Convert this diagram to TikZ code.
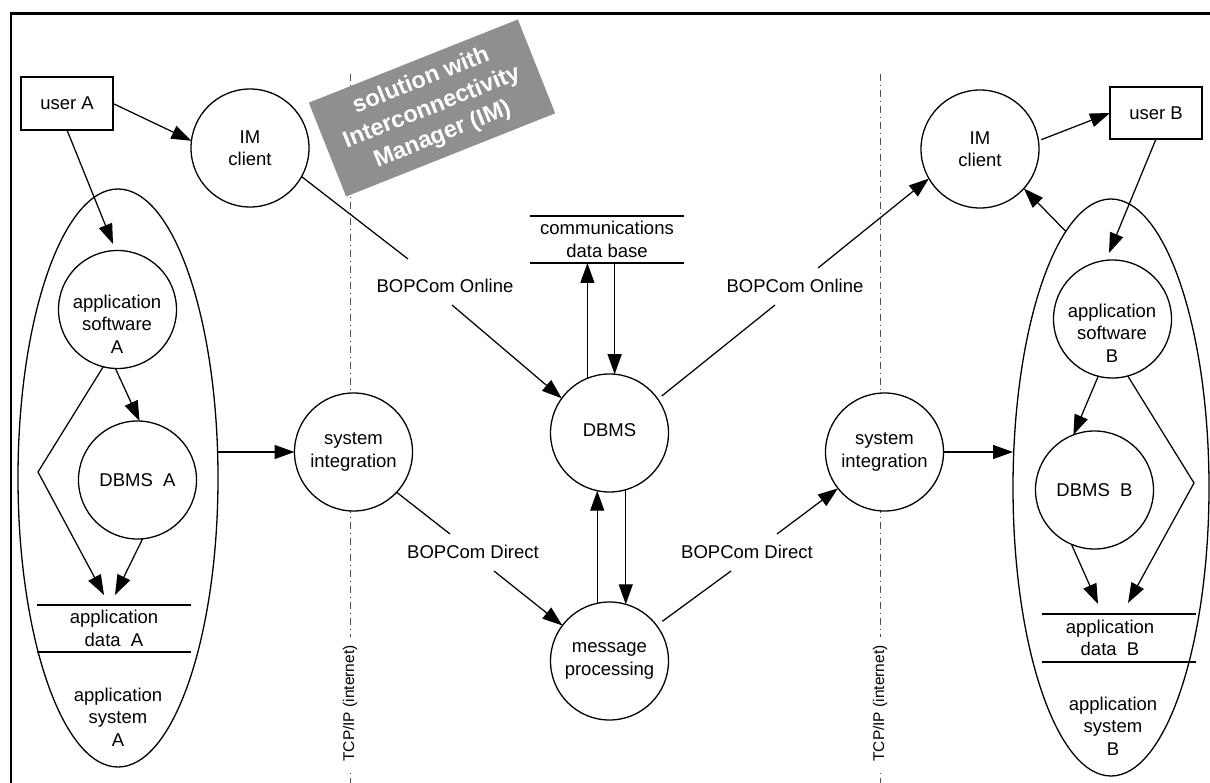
\documentclass[tikz,border=0pt]{standalone}
\usepackage{fontspec}
\setmainfont{Liberation Sans}
\usetikzlibrary{shapes.geometric,arrows.meta,calc}
\definecolor{boxgrey}{RGB}{143,143,143}
\begin{document}
\begin{tikzpicture}[x=1pt,y=-1pt,
  every node/.style={font=\fontsize{18.5}{22.5}\selectfont},
  proc/.style={circle,draw,line width=1.3pt,fill=white,minimum size=118pt,inner sep=0pt,outer sep=0pt,align=center},
  lbl/.style={align=center,inner sep=0pt},
  ext/.style={rectangle,draw,line width=1.3pt,fill=white,minimum width=92pt,minimum height=53pt,inner sep=0pt,outer sep=0pt},
  store/.style={rectangle,minimum width=154pt,minimum height=47pt,inner sep=0pt,outer sep=0pt,align=center},
  storeline/.style={line width=2.8pt},
  sys/.style={ellipse,draw,line width=1.3pt,inner sep=0pt,outer sep=0pt},
  flow/.style={line width=1.25pt},
  arr/.style={flow,-{Triangle[length=20pt,width=14pt]}},
  net/.style={line width=0.9pt,black!70,dash pattern=on 7pt off 4pt on 1pt off 4pt},
  netlbl/.style={rotate=90,fill=white,inner xsep=8pt,inner ysep=1pt,font=\fontsize{15.5}{18}\selectfont},
]
\useasboundingbox (0,0) rectangle (1210,783);

% frame
\draw[line width=2.7pt] (1210,13.5) -- (11,13.5) -- (11,783);

% network boundaries
\draw[net] (350,74) -- (350,783);
\draw[net] (880,74) -- (880,783);
\node[netlbl] (tcpA) at (350,703.5) {TCP/IP (internet)};
\node[netlbl] (tcpB) at (880,703.5) {TCP/IP (internet)};

% highlighted note
\node[rotate=21.7,fill=boxgrey,minimum width=225pt,minimum height=101pt,inner sep=0pt,
      align=center,text=white,font=\bfseries\fontsize{23.5}{29}\selectfont]
      (imnote) at (432,108) {solution with\\Interconnectivity\\Manager (IM)};

% application systems
\node[sys,minimum width=200pt,minimum height=578pt] (ellA) at (118,478) {};
\node[sys,minimum width=196pt,minimum height=577pt] (ellB) at (1111,487.5) {};
\node[lbl] (sysAt) at (118,717) {application\\system\\A};
\node[lbl] (sysBt) at (1113,726) {application\\system\\B};

% external entities
\node[ext] (userA) at (67,103.5) {user A};
\node[ext,minimum height=52pt] (userB) at (1156,113) {user B};

% processes
\node[proc] (imA) at (250,148) {IM\\client};
\node[proc] (asA) at (117.5,309.5) {};
\node[lbl] (asAt) at (117,324) {application\\software\\A};
\node[proc] (dbA) at (137.5,480) {DBMS\ \ A};
\node[proc] (sysA) at (353.5,452) {system\\integration};
\node[proc] (dbms) at (609.5,433) {};
\node[lbl] (dbmst) at (609.5,430) {DBMS};
\node[proc] (msg) at (609.5,661) {message\\processing};
\node[proc] (sysB) at (884.5,452) {system\\integration};
\node[proc] (imB) at (980,149) {IM\\client};
\node[proc] (asB) at (1112.5,319) {};
\node[lbl] (asBt) at (1112,333) {application\\software\\B};
\node[proc] (dbB) at (1094.5,490) {DBMS\ \ B};

% data stores
\node[store] (cdb) at (607,239.5) {communications\\data base};
\draw[storeline] (cdb.north west) -- (cdb.north east) (cdb.south west) -- (cdb.south east);
\node[store] (adA) at (114,628.5) {application\\data\ \ A};
\draw[storeline] (adA.north west) -- (adA.north east) (adA.south west) -- (adA.south east);
\node[store,minimum height=48pt] (adB) at (1119,638) {};
\node[lbl] (adBt) at (1110,638) {application\\data\ \ B};
\draw[storeline] (adB.north west) -- (adB.north east) (adB.south west) -- (adB.south east);

% flow labels
\node[lbl] (onlA) at (445,286) {BOPCom Online};
\node[lbl] (onlB) at (795,286) {BOPCom Online};
\node[lbl] (dirA) at (473,552) {BOPCom Direct};
\node[lbl] (dirB) at (747,552) {BOPCom Direct};

% bend points
\coordinate (bendA) at (38,472);
\coordinate (bendB) at (1194,483);

% flows
\draw[arr] (userA.east) -- (imA.173);
\draw[arr] (userA.south) -- ($(asA.north)+(-4.5,-6.5)$);
\draw[flow] (imA.-29.5) -- ($(onlA)+(-37,-27)$);
\draw[arr] ($(onlA)+(7,19)$) -- (dbms.144);
\draw[flow,shorten <=5pt] (dbms.35) -- ($(onlB)+(-20,19)$);
\draw[arr] ($(onlB)+(23,-18)$) -- (imB.210);
\draw[flow] (sysA.-43) -- ($(dirA)+(-23,-18)$);
\draw[arr] ($(dirA)+(21,19)$) -- (msg.143);
\draw[flow,shorten <=7pt] (msg.37) -- ($(dirB)+(-16,19)$);
\draw[arr] ($(dirB)+(30,-18)$) -- (sysB.218);
\draw[arr] (ellA.east |- sysA.west) -- (sysA.west);
\draw[arr] (sysB.east) -- (ellB.west |- sysB.east);

\draw[arr] (asA.-92) -- (dbA.88);
\draw[arr] (asA.-104) -- (bendA) -- ($(adA.north)+(-10,-10)$);
\draw[arr] (dbA.-85) -- ($(adA.north)+(1,-10)$);

\draw[arr] (userB.south) -- ($(asB.north)+(-3.5,-7)$);
\draw[arr] (ellB.100.8) -- (imB.-42);
\draw[arr,shorten <=3pt] (imB.8) -- (userB.west);
\draw[arr] (asB.-104) -- (dbB.111);
\draw[arr] (asB.-75) -- (bendB) -- ($(adB.north)+(9,-11)$);
\draw[arr] (dbB.-113) -- ($(adB.north)+(-21,-10)$);

\draw[arr] (dbms.112) -- (dbms.112 |- cdb.south);
\draw[arr] (dbms.85 |- cdb.south) -- (dbms.85);
\draw[arr] (msg.102) -- (dbms.-102);
\draw[arr] (dbms.-74) -- (msg.74);
\end{tikzpicture}
\end{document}
